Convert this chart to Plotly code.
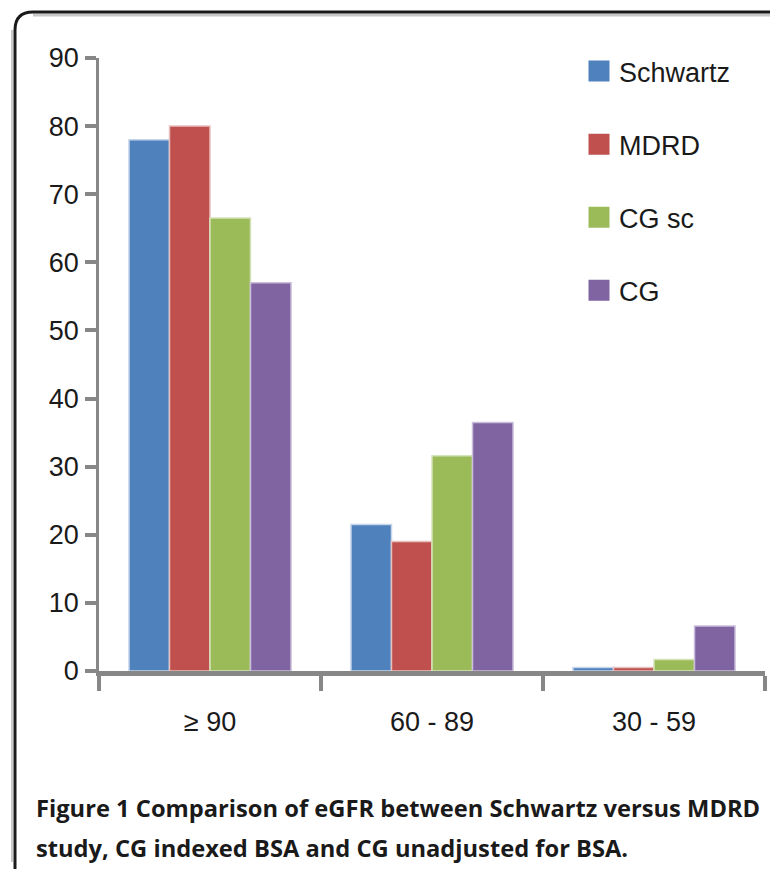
import plotly.graph_objects as go

categories = ["≥ 90", "60 - 89", "30 - 59"]
series_names = ["Schwartz", "MDRD", "CG sc", "CG"]
schwartz = [78.0, 21.5, 0.5]
mdrd = [80.0, 19.0, 0.5]
cg_sc = [66.5, 31.6, 1.7]
cg = [57.0, 36.5, 6.6]
colors = ["#4F81BD", "#C0504D", "#9BBB59", "#8064A2"]
edge_colors = ["#C6D5EA", "#E8C0BF", "#D5E3B9", "#CBBEDC"]
y_ticks = [0, 10, 20, 30, 40, 50, 60, 70, 80, 90]
caption1 = "Figure 1 Comparison of eGFR between Schwartz versus MDRD"
caption2 = "study, CG indexed BSA and CG unadjusted for BSA."

# page body has an 8px margin; the figure is sized/positioned to compensate
OFF = 8
W, H = 778 - OFF, 877 - 2 * OFF
# target plot area in screen pixels: left 99, right 765, top 58, bottom 671
L = 99 - OFF
T = 58 - OFF
R = 778 - 765
B = (OFF + H) - 671

fig = go.Figure()
for name, vals, col, ec in zip(series_names, [schwartz, mdrd, cg_sc, cg], colors, edge_colors):
    fig.add_trace(go.Bar(
        x=categories, y=vals, name=name, showlegend=False,
        marker=dict(color=col, line=dict(color=ec, width=1.5)),
    ))
# legend entries (larger square swatches like the original)
for name, col in zip(series_names, colors):
    fig.add_trace(go.Scatter(
        x=[None], y=[None], mode="markers", name=name, legendgroup=name,
        marker=dict(symbol="square", size=16, color=col, line=dict(color=col, width=5)),
        hoverinfo="skip",
    ))

pw = W - L - R
ph = H - T - B
def px(x):
    return (x - OFF - L) / pw
def py(y):
    return (OFF + H - B - y) / ph

frame = (f"M {px(15)},{py(872)} L {px(15)},{py(30)} Q {px(15)},{py(12)} {px(33)},{py(12)} "
         f"L {px(800)},{py(12)}")
shadow_top = f"M {px(33)},{py(15)} L {px(800)},{py(15)}"
shadow_left = f"M {px(12)},{py(862)} L {px(12)},{py(30)}"

fig.update_layout(
    width=W, height=H,
    margin=dict(l=L, r=R, t=T, b=B, autoexpand=False),
    paper_bgcolor="white", plot_bgcolor="white",
    barmode="group", bargap=0.27, bargroupgap=0,
    font=dict(family="Liberation Sans, Arial, sans-serif", size=27, color="#1a1a1a"),
    showlegend=True,
    legend=dict(x=px(579), y=py(47), xanchor="left", yanchor="top",
                tracegroupgap=35, traceorder="grouped",
                font=dict(size=27), bgcolor="rgba(0,0,0,0)"),
    shapes=[
        dict(type="path", path=shadow_top, xref="paper", yref="paper",
             line=dict(color="#C8C8C8", width=3), layer="below"),
        dict(type="path", path=shadow_left, xref="paper", yref="paper",
             line=dict(color="#C8C8C8", width=2), layer="below"),
        dict(type="path", path=frame, xref="paper", yref="paper",
             line=dict(color="#1a1a1a", width=3)),
    ],
    annotations=[
        dict(text="<b>" + caption1 + "</b>", x=px(34), y=py(808), xref="paper", yref="paper",
             xanchor="left", yanchor="middle", showarrow=False,
             font=dict(family="Open Sans, sans-serif", size=23.7, color="#1a1a1a")),
        dict(text="<b>" + caption2 + "</b>", x=px(34), y=py(848), xref="paper", yref="paper",
             xanchor="left", yanchor="middle", showarrow=False,
             font=dict(family="Open Sans, sans-serif", size=23.7, color="#1a1a1a")),
    ],
)
fig.update_xaxes(
    showline=True, linecolor="#878787", linewidth=5,
    ticks="outside", tickson="boundaries", ticklen=15, tickwidth=4, tickcolor="#878787",
    showgrid=False, zeroline=False, ticklabelstandoff=23,
)
fig.update_yaxes(
    range=[0, 90], tickvals=y_ticks,
    showline=True, linecolor="#878787", linewidth=2.5,
    ticks="outside", ticklen=11, tickwidth=4, tickcolor="#878787",
    showgrid=False, zeroline=False, ticklabelstandoff=1,
)
fig.write_html("out.html")
